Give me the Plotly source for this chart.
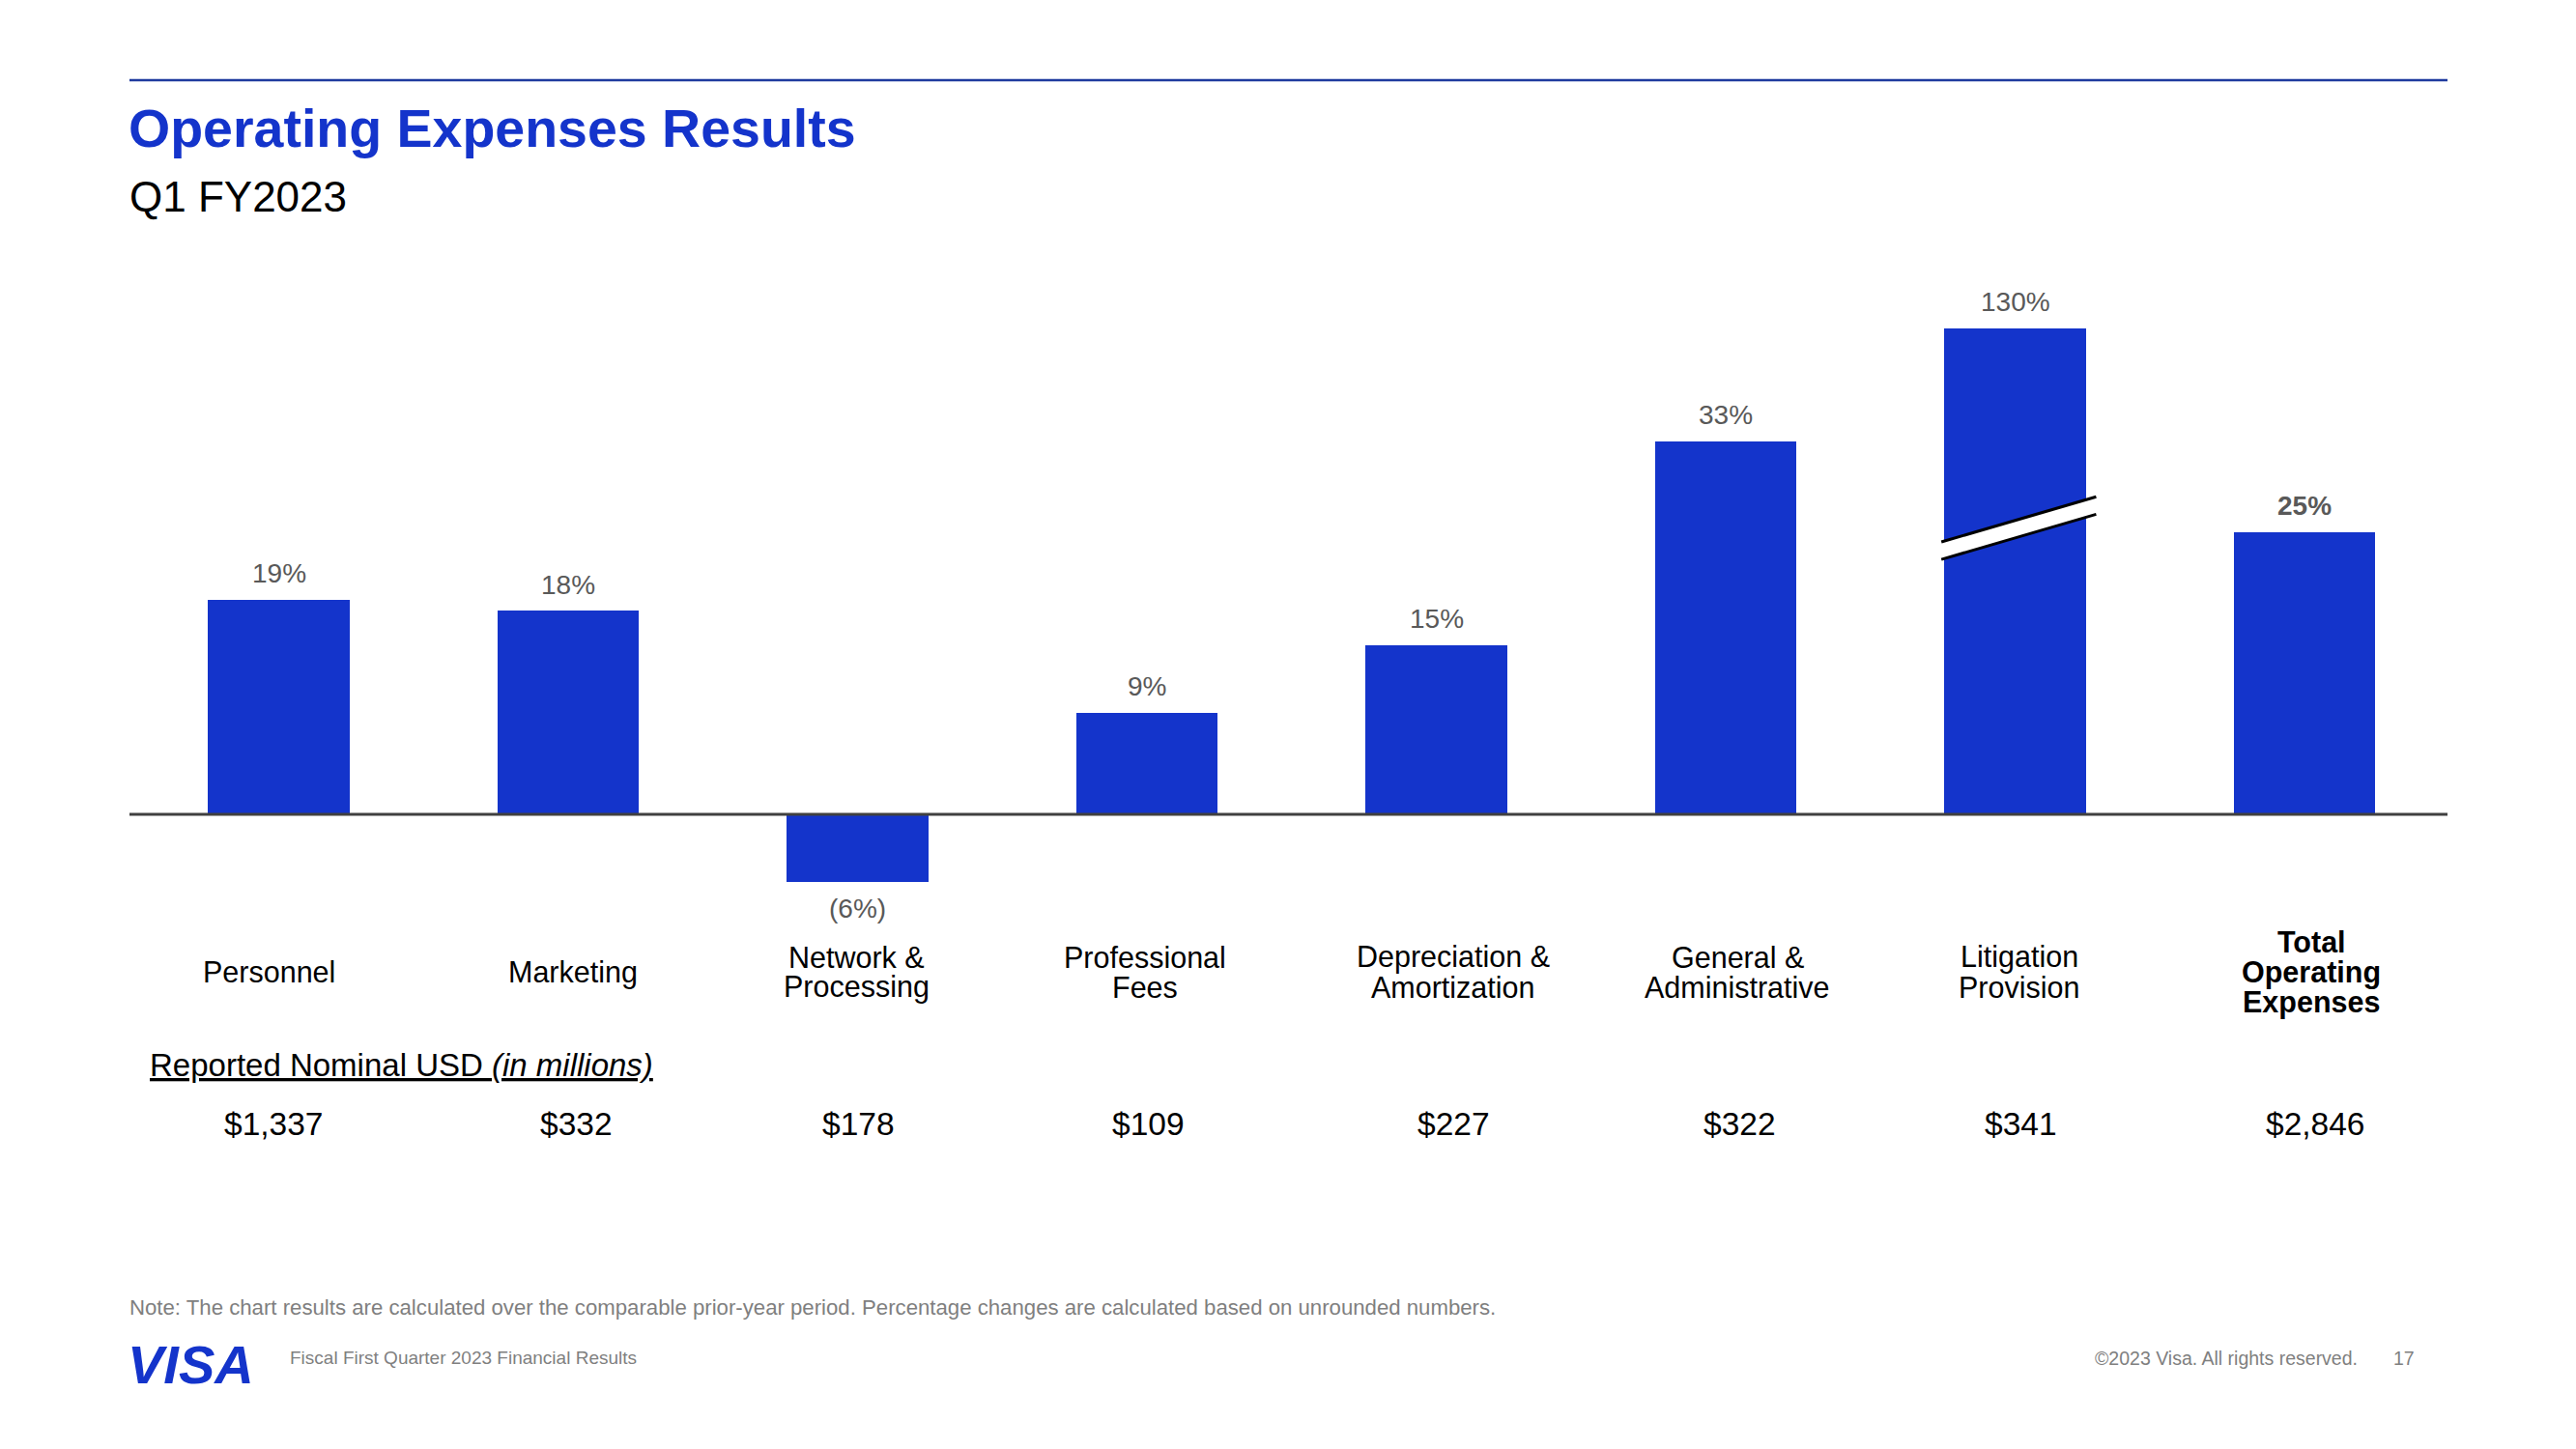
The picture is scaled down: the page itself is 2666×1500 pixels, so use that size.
import plotly.graph_objects as go

# ---------------- data ----------------
categories = [
    ["Personnel"],
    ["Marketing"],
    ["Network &", "Processing"],
    ["Professional", "Fees"],
    ["Depreciation &", "Amortization"],
    ["General &", "Administrative"],
    ["Litigation", "Provision"],
    ["Total", "Operating", "Expenses"],
]
pct_change = [19, 18, -6, 9, 15, 33, 130, 25]
nominal_usd = ["$1,337", "$332", "$178", "$109", "$227", "$322", "$341", "$2,846"]
bold_flags = [False, False, False, False, False, False, False, True]

BREAK_CAP = 43  # displayed height of a bar drawn with an axis break

# ---------------- style ----------------
BLUE = "#1434CB"
FONT = "Liberation Sans, Arial, sans-serif"
W, H = 2666, 1500
OFF = 8  # page body margin
# plot area in page pixels
PL, PR, PT, PB = 134, 2533, 300, 960
ZERO_PX = 843
PX_PER_UNIT = 11.7
X_RANGE = [-0.516, 7.494]
# small horizontal nudges (px) of the text rows relative to bar centres
LABEL_NUDGE = [-10, 5, -1, -2, 17, 12, 4, 7]
VALUE_NUDGE = [-6, 8, 1, 1, 18, 14, 6, 11]

def X(px):
    return (px - PL) / (PR - PL)

def Y(py):
    return (PB - py) / (PB - PT)

ymax = (ZERO_PX - PT) / PX_PER_UNIT
ymin = -(PB - ZERO_PX) / PX_PER_UNIT

xs = list(range(len(pct_change)))
plotted = [min(v, BREAK_CAP) for v in pct_change]

fig = go.Figure()
fig.add_trace(go.Bar(
    x=xs, y=plotted, width=0.49,
    marker=dict(color=BLUE, line=dict(width=0)),
    hoverinfo="skip",
))

ann = []
# percent labels
for i, (v, p) in enumerate(zip(pct_change, plotted)):
    txt = f"{v}%" if v >= 0 else f"({abs(v)}%)"
    if bold_flags[i]:
        txt = f"<b>{txt}</b>"
    ann.append(dict(x=i, y=p, xref="x", yref="y", text=txt, showarrow=False,
                    yanchor="middle", yshift=27 if v >= 0 else -27,
                    font=dict(family=FONT, size=28, color="#595959")))

# category labels (one annotation per line for tight spacing)
LINE_GAP = 31
for i, lines in enumerate(categories):
    n = len(lines)
    for k, line in enumerate(lines):
        cy = 1006 + (k - (n - 1) / 2) * LINE_GAP
        txt = f"<b>{line}</b>" if bold_flags[i] else line
        ann.append(dict(x=i, y=Y(cy), xref="x", yref="paper", text=txt, showarrow=False,
                        xshift=LABEL_NUDGE[i], yanchor="middle",
                        font=dict(family=FONT, size=30.5, color="#000000")))

# nominal values
for i, val in enumerate(nominal_usd):
    ann.append(dict(x=i, y=Y(1163), xref="x", yref="paper", text=val, showarrow=False,
                    xshift=VALUE_NUDGE[i], yanchor="middle",
                    font=dict(family=FONT, size=33.5, color="#000000")))

# row header
ann.append(dict(x=X(153), y=Y(1102), xref="paper", yref="paper",
                text="<u>Reported Nominal USD <i>(in millions)</i></u>", showarrow=False,
                xanchor="left", yanchor="middle",
                font=dict(family=FONT, size=33, color="#000000")))

# titles
ann.append(dict(x=X(131), y=Y(133), xref="paper", yref="paper",
                text="<b>Operating Expenses Results</b>", showarrow=False,
                xanchor="left", yanchor="middle",
                font=dict(family=FONT, size=55.5, color=BLUE)))
ann.append(dict(x=X(132), y=Y(203), xref="paper", yref="paper",
                text="Q1 FY2023", showarrow=False, xanchor="left", yanchor="middle",
                font=dict(family=FONT, size=44, color="#000000")))

# note and footer
ann.append(dict(x=X(132), y=Y(1353), xref="paper", yref="paper",
                text="Note: The chart results are calculated over the comparable prior-year period. "
                     "Percentage changes are calculated based on unrounded numbers.",
                showarrow=False, xanchor="left", yanchor="middle",
                font=dict(family=FONT, size=22.2, color="#7f7f7f")))
ann.append(dict(x=X(298), y=Y(1405), xref="paper", yref="paper",
                text="Fiscal First Quarter 2023 Financial Results", showarrow=False,
                xanchor="left", yanchor="middle",
                font=dict(family=FONT, size=19, color="#7f7f7f")))
ann.append(dict(x=X(2442), y=Y(1406), xref="paper", yref="paper",
                text="©2023 Visa. All rights reserved.", showarrow=False,
                xanchor="right", yanchor="middle",
                font=dict(family=FONT, size=19.5, color="#7f7f7f")))
ann.append(dict(x=X(2488), y=Y(1406), xref="paper", yref="paper",
                text="17", showarrow=False, xanchor="center", yanchor="middle",
                font=dict(family=FONT, size=19.5, color="#7f7f7f")))
ann.append(dict(x=X(130), y=Y(1412), xref="paper", yref="paper",
                text="<b><i>VISA</i></b>", showarrow=False, xanchor="left", yanchor="middle",
                font=dict(family=FONT, size=56, color=BLUE)))

shapes = []
# top rule
shapes.append(dict(type="line", xref="paper", yref="paper", x0=0, x1=1, y0=Y(83), y1=Y(83),
                   line=dict(color="#1f3a9e", width=2.5)))
# zero line
shapes.append(dict(type="line", xref="paper", yref="y", x0=0, x1=1, y0=0, y1=0,
                   line=dict(color="#404040", width=3)))
# axis-break marks on capped bar(s)
for i, v in enumerate(pct_change):
    if v > BREAK_CAP:
        x0, x1 = i - 0.255, i + 0.28
        a0, a1, d = 24.1, 28.1, 1.55
        shapes.append(dict(type="path", xref="x", yref="y",
                           path=f"M {x0},{a0} L {x1},{a1} L {x1},{a1 - d} L {x0},{a0 - d} Z",
                           fillcolor="white", line=dict(width=0)))
        shapes.append(dict(type="line", xref="x", yref="y", x0=x0, x1=x1, y0=a0, y1=a1,
                           line=dict(color="black", width=3)))
        shapes.append(dict(type="line", xref="x", yref="y", x0=x0, x1=x1, y0=a0 - d, y1=a1 - d,
                           line=dict(color="black", width=3)))

fig.update_layout(
    width=W, height=H,
    margin=dict(l=PL - OFF, r=W - (PR - OFF), t=PT - OFF, b=H - (PB - OFF), pad=0),
    paper_bgcolor="white", plot_bgcolor="white",
    showlegend=False,
    xaxis=dict(range=X_RANGE, visible=False, fixedrange=True),
    yaxis=dict(range=[ymin, ymax], visible=False, fixedrange=True),
    annotations=ann, shapes=shapes,
    bargap=0,
)

fig.write_html("out.html", config={"displayModeBar": False})
